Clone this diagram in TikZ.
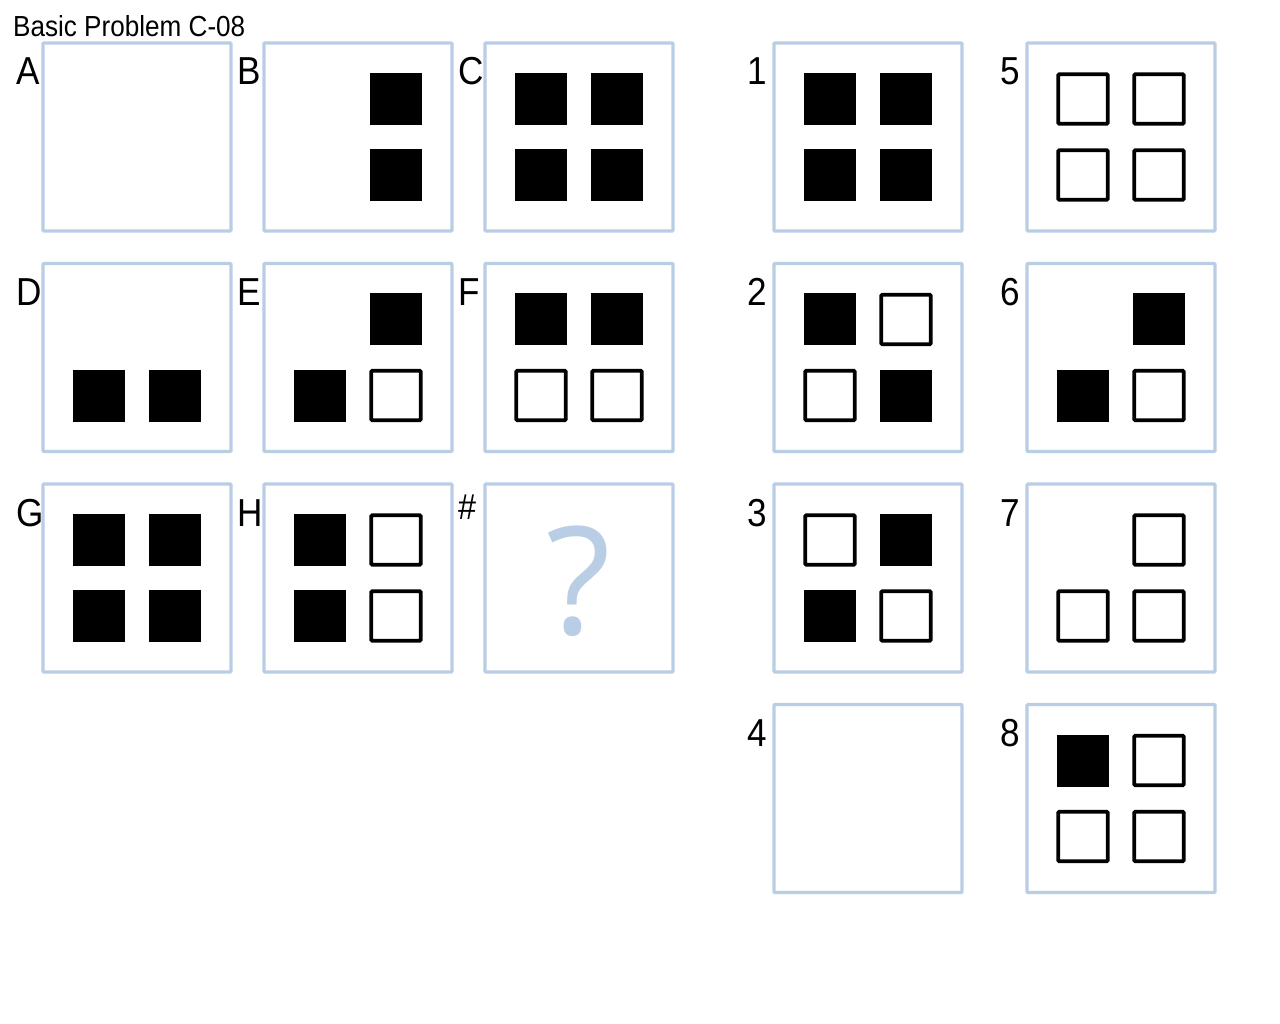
\documentclass[tikz,border=0pt]{standalone}
\usepackage{fontspec}
\setmainfont{Liberation Sans}
\newfontfamily\narrowfont[FakeStretch=0.9]{Liberation Sans}
\newfontfamily\qmarkfont{Open Sans}
\usetikzlibrary{calc}
\definecolor{panelblue}{HTML}{B9CDE5}

\tikzset{
  panel/.style={draw=panelblue, line width=3.2pt, rounded corners=1pt, minimum size=188pt, inner sep=0pt, outer sep=0pt, anchor=north west},
  full/.style={fill=black, minimum size=52pt, inner sep=0pt},
  hollow/.style={draw=black, line width=3.6pt, rounded corners=1pt, minimum size=49.5pt, inner sep=0pt},
  tag/.style={font=\narrowfont\fontsize{39}{39}\selectfont, anchor=base west, inner sep=0pt}
}

\begin{document}
\begin{tikzpicture}[x=1pt,y=-1pt]
        % \draw[help lines] (0,0) grid (1280,1024);
        \useasboundingbox (0,0) rectangle (1280,1024);

        \node[anchor=base west, inner sep=0pt, font=\narrowfont\fontsize{29}{29}\selectfont] (title) at (13,37) {Basic Problem C-08};

        % panels and their letters
        \foreach \p/\x/\y in {A/43/43, B/264/43, C/485/43, D/43/263.5, E/264/263.5, F/485/263.5,
                              G/43/484, H/264/484, 1/774/43, 2/774/263.5, 3/774/484, 4/774/704.5,
                              5/1027/43, 6/1027/263.5, 7/1027/484, 8/1027/704.5}
        {
            \node[panel] (p\p) at (\x,\y) {};
            \node[tag] (t\p) at ($(p\p.north west)+(-27,42)$) {\p};
        }

        \node[panel] (pQ) at (485,484) {};
        \node[tag, font=\narrowfont\fontsize{36}{36}\selectfont] (tQ) at ($(pQ.north west)+(-27,35)$) {\#};
        \node[font=\qmarkfont\fontsize{150}{150}\selectfont, text=panelblue, inner sep=0pt] (q) at ($(pQ.center)+(0,3)$) {?};

        % black squares
        \foreach \p/\i/\j in {B/132/56, B/132/132, C/56/56, C/132/56, C/56/132, C/132/132,
                              D/56/132, D/132/132, E/132/56, E/56/132, F/56/56, F/132/56,
                              G/56/56, G/132/56, G/56/132, G/132/132, H/56/56, H/56/132,
                              1/56/56, 1/132/56, 1/56/132, 1/132/132, 2/56/56, 2/132/132,
                              3/132/56, 3/56/132, 6/132/56, 6/56/132, 8/56/56}
            \node[full] at ($(p\p.north west)+(\i,\j)$) {};

        % white squares
        \foreach \p/\i/\j in {E/132/132, F/56/132, F/132/132, H/132/56, H/132/132,
                              2/132/56, 2/56/132, 3/56/56, 3/132/132,
                              5/56/56, 5/132/56, 5/56/132, 5/132/132, 6/132/132,
                              7/132/56, 7/56/132, 7/132/132, 8/132/56, 8/56/132, 8/132/132}
            \node[hollow] at ($(p\p.north west)+(\i,\j)$) {};
    \end{tikzpicture}
\end{document}
